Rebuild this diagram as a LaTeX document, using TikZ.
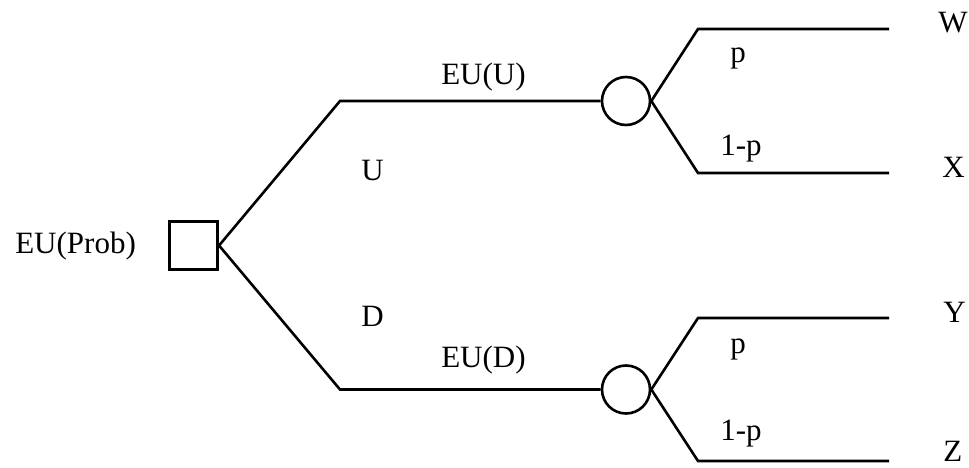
\documentclass[tikz,border=0pt]{standalone}
\usepackage{fontspec}
\setmainfont{Liberation Serif}
\begin{document}
\begin{tikzpicture}[x=1pt,y=-1pt,
  line width=2.6pt,
  lbl/.style={inner sep=0pt,anchor=base west,font=\fontsize{31}{37}\selectfont},
  decision/.style={draw,rectangle,minimum size=48.5pt,inner sep=0pt},
  chance/.style={draw,circle,minimum size=48pt,inner sep=0pt},
  branch/.style={draw,line join=miter}]
\useasboundingbox (0,0) rectangle (969,468);
\node[decision] (sq) at (193.5,245.5) {};
\node[chance] (cU) at (626,101) {};
\node[chance] (cD) at (626,389.5) {};
\coordinate (uK) at (340,101);
\coordinate (dK) at (340,389.5);
\coordinate (wK) at (698,29);
\coordinate (wE) at (889,29);
\coordinate (xK) at (698,173);
\coordinate (xE) at (889,173);
\coordinate (yK) at (698,318);
\coordinate (yE) at (889,318);
\coordinate (zK) at (698,461);
\coordinate (zE) at (889,461);
\draw[branch] (sq.east) -- (uK) -- (cU.west);
\draw[branch] (sq.east) -- (dK) -- (cD.west);
\draw[branch] (cU.east) -- (wK) -- (wE);
\draw[branch] (cU.east) -- (xK) -- (xE);
\draw[branch] (cD.east) -- (yK) -- (yE);
\draw[branch] (cD.east) -- (zK) -- (zE);
\node[lbl] (lprob) at (14,253) {EU(Prob)};
\node[lbl] (lU) at (360,180) {U};
\node[lbl] (lD) at (360,326) {D};
\node[lbl] (lEUU) at (440,85) {EU(U)};
\node[lbl] (lEUD) at (440,367) {EU(D)};
\node[lbl] (lp1) at (729,63) {p};
\node[lbl] (lq1) at (719,155) {1-p};
\node[lbl] (lp2) at (729,353) {p};
\node[lbl] (lq2) at (719,440) {1-p};
\node[lbl] (lW) at (937,33) {W};
\node[lbl] (lX) at (941,178) {X};
\node[lbl] (lY) at (942,322) {Y};
\node[lbl] (lZ) at (942,461) {Z};
\end{tikzpicture}
\end{document}
